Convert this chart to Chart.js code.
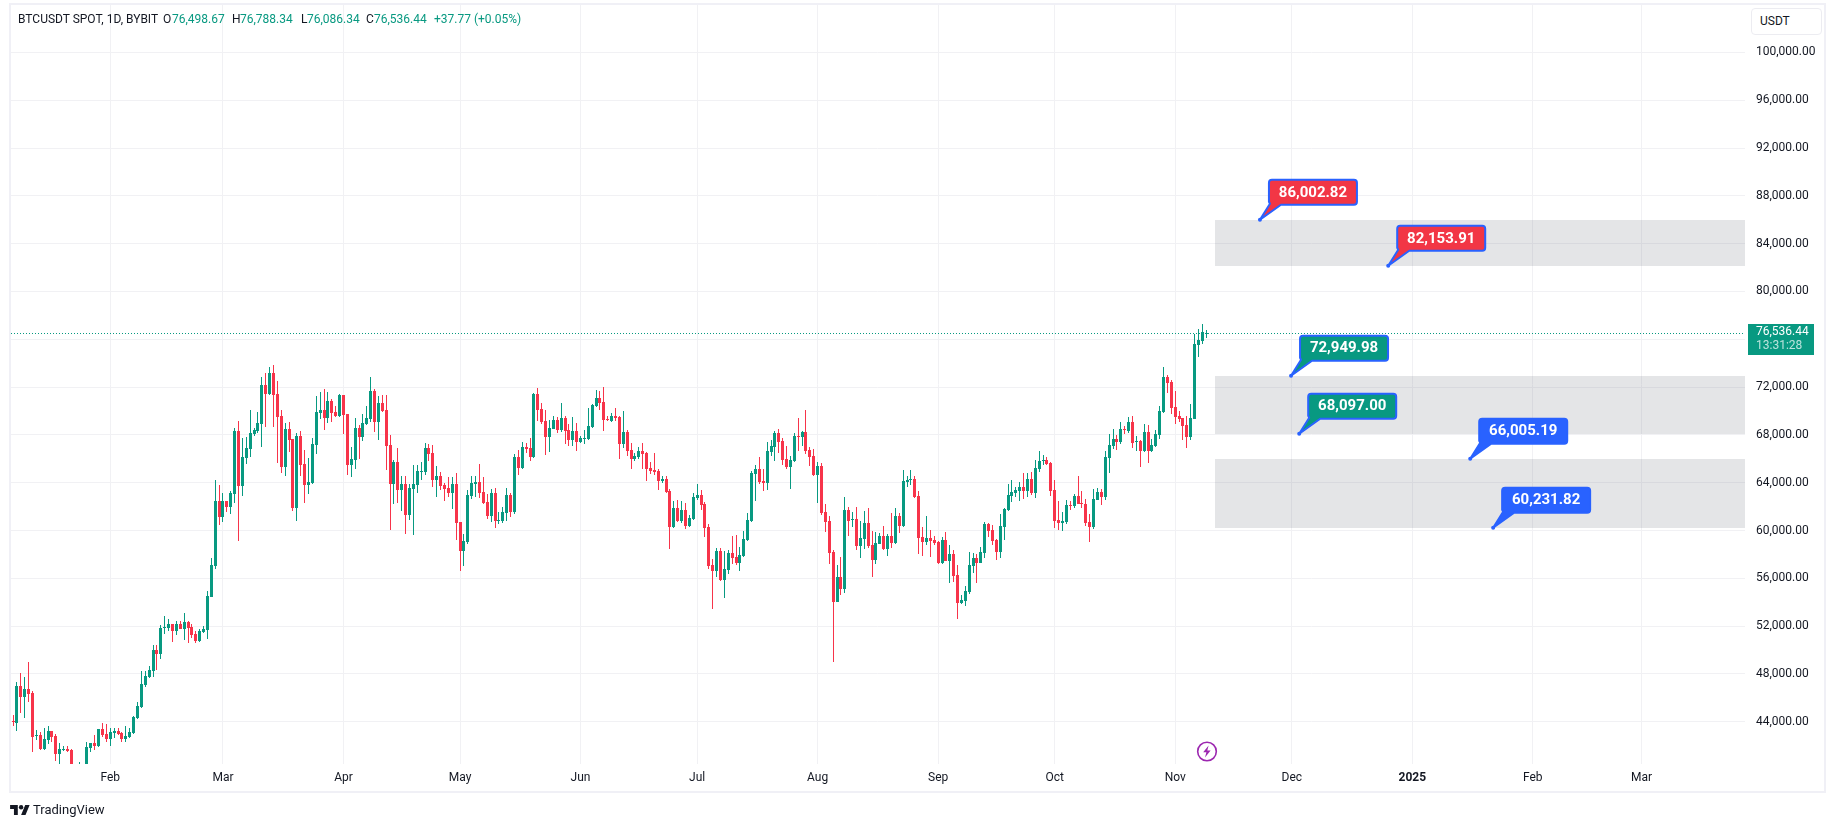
<!DOCTYPE html>
<html>
<head>
<meta charset="utf-8">
<title>BTCUSDT</title>
<script src="https://cdn.jsdelivr.net/npm/chart.js@4"></script>
<style>
html,body{margin:0;padding:0;background:#fff;width:1835px;height:827px;overflow:hidden;font-family:Roboto,sans-serif;color:#131722}
#c{position:absolute;left:0;top:0}
#frame{position:absolute;left:9px;top:3px;width:1813px;height:786px;border:2px solid #f0f0f6;pointer-events:none}
.t{position:absolute;white-space:nowrap;font-size:12px;line-height:14px;top:12px}
.g{color:#089981}
#usdt{position:absolute;left:1751px;top:8px;width:69px;height:25px;border:1px solid #ececf1;border-radius:4px;box-sizing:content-box;font-size:12px;line-height:25px;text-indent:8px;background:#fff}
#logo{position:absolute;left:10px;top:804px}
#brand{position:absolute;left:33px;top:802px;font-size:13px;line-height:16px;font-weight:400;color:#131722}
#bolt{position:absolute;left:1196px;top:741px}
</style>
</head>
<body>
<canvas id="c" width="1835" height="827"></canvas>
<div id="frame"></div>
<div class="t" style="left:18px">BTCUSDT SPOT, 1D, BYBIT</div>
<div class="t" style="left:163px">O</div><div class="t g" style="left:172px">76,498.67</div>
<div class="t" style="left:232px">H</div><div class="t g" style="left:240px">76,788.34</div>
<div class="t" style="left:301px">L</div><div class="t g" style="left:307px">76,086.34</div>
<div class="t" style="left:366px">C</div><div class="t g" style="left:374px">76,536.44</div>
<div class="t g" style="left:434px">+37.77 (+0.05%)</div>
<div id="usdt">USDT</div>
<svg id="logo" width="20" height="11" viewBox="0 0 36 20"><path fill="#131722" d="M14 20H7V9H0V2h14v18zM28 20h-8l7.5-18h8L28 20z"/><circle cx="20" cy="6" r="4" fill="#131722"/></svg>
<div id="brand">TradingView</div>
<svg id="bolt" width="22" height="21" viewBox="0 0 22 21"><circle cx="11" cy="10.5" r="9.3" fill="#fff" stroke="#9c27b0" stroke-width="1.6"/><path fill="#9c27b0" d="M12.6 4.5 7.2 11.3h3.2l-1.4 5.2 5.6-7h-3.3z"/></svg>
<script>
const firstDay = 5;
const opens = [44140,44029,43889,46965,46042,46714,46378,42770,42854,41679,
42435,43189,42770,41259,41595,41679,41595,39600,39850,40100,
39900,41763,42183,41931,43357,42938,42518,43022,43189,43022,
42518,42686,43022,44281,45204,47049,47720,48224,49986,49650,
51832,51832,52168,51580,52168,51748,52336,51916,51329,50741,
51497,51664,54433,56994,62430,61091,62430,61928,63016,68289,
63685,66029,66782,68038,68289,68875,72139,71386,73143,71386,
69544,65276,68456,67619,61844,67870,65527,63769,63936,67117,
69795,70046,69377,70800,69879,69544,71302,69712,65443,65862,
68540,67787,68875,69293,71637,69042,70632,70046,67117,63853,
65694,63351,63853,61258,63434,63769,64857,64857,66866,66447,
64188,64522,63769,63518,63100,63853,60672,58245,58998,62848,
63853,64020,63183,62346,61186,63104,60769,60769,61436,62937,
61519,66190,65189,67024,66940,66190,71444,70193,69192,67858,
68525,69275,68441,69442,68441,67607,68358,67441,67691,67691,
68692,70443,71110,70777,69359,69192,69609,69526,67274,68275,
66773,66023,66190,66690,66523,65189,65022,64939,64105,64271,
63271,60268,61853,60769,61686,60352,60935,62687,62937,62186,
60268,57102,56602,58270,55851,56685,58103,57769,57269,57853,
59187,60772,64691,65108,64108,63941,66610,67027,68194,67527,
65942,65275,65776,67944,67861,68278,66777,66193,64608,65359,
61522,60772,58186,54016,56101,55100,61689,60855,60938,58687,
59270,60605,58770,57519,58853,59521,58436,59521,58937,61189,
60355,64024,64191,64274,62857,59437,59020,59354,59187,59020,
57269,59187,57436,58019,56268,53933,54099,54859,57035,57704,
57286,58123,60550,60048,59211,58207,60298,61721,62892,63144,
63310,63645,63310,64314,63144,65151,65820,65904,65653,63394,
60884,60633,60717,62139,62055,62892,62306,62223,60717,60298,
62557,63226,62808,66071,67075,67661,67410,68498,68331,69083,
67410,67494,66657,68247,66657,67075,67996,69920,72849,72431,
70339,69586,69418,68833,67829,69335,75526,75861,76498.67];
const closes = [44030,43945,46965,46042,46714,46294,42686,42854,41679,42518,
43189,42686,41259,41679,41679,41511,39600,39850,40100,39900,
41847,42183,41931,43357,42854,42518,43105,43189,42938,42518,
42770,43105,44364,45287,47133,47804,48308,49986,49650,51832,
51916,52168,51580,52168,51748,52336,51832,51245,50741,51580,
51748,54517,57073,62430,61091,62430,61928,63100,68289,63685,
66113,66866,68121,68373,68958,72139,71386,73143,71302,69461,
65276,68456,67536,61844,67870,65443,63769,64020,67201,69879,
70046,69377,70800,69795,69544,71302,69628,65443,65945,68540,
67787,68958,69377,71637,69042,70632,69963,67033,63853,65694,
63351,63853,61258,63518,63853,64941,64941,66866,66364,64188,
64522,63685,63434,63100,63853,60588,58245,59082,62932,63936,
64020,63100,62262,61175,63104,60769,60852,61519,62937,61519,
66190,65189,67024,66857,66190,71444,70109,69109,67858,68608,
69275,68441,69442,68358,67607,68358,67441,67774,67774,68775,
70526,71110,70693,69275,69275,69609,69442,67274,68275,66690,
66023,66273,66690,66440,65105,64939,64855,64105,64271,63187,
60268,61853,60769,61686,60352,61019,62770,62937,62103,60185,
57015,56602,58270,55851,56768,58103,57686,57269,57936,59270,
60855,64775,65108,64024,63941,66693,67110,68194,67444,65859,
65275,65859,67944,67861,68278,66693,66109,64608,65359,61439,
60688,58103,54016,56101,55100,61689,60772,60938,58687,59354,
60605,58687,57519,58937,59521,58436,59521,58937,61189,60355,
64108,64191,64274,62773,59354,59020,59354,59104,58937,57269,
59187,57436,58019,56185,53933,54183,54933,57118,57704,57286,
58207,60550,59964,59127,58207,60382,61804,62976,63226,63394,
63645,63310,64314,63144,65235,65820,65904,65570,63310,60800,
60633,60800,62139,62055,62892,62223,62223,60633,60298,62641,
63226,62808,66155,67159,67661,67410,68498,68414,69083,67326,
67494,66657,68247,66657,67159,68080,70004,72849,72347,70255,
69502,69335,68749,67829,69418,75610,75945,76614,76536.44];
const highs = [44180,44532,47301,48056,47720,48979,46546,43273,43105,43441,
43610,43189,42938,42183,41931,41931,41679,40100,40588,40300,
42267,42183,42854,43357,43861,43777,43441,43441,43441,43105,
43610,43441,44448,45623,48224,48224,48643,50406,50406,52084,
52839,52587,52168,52420,52420,53091,52420,52168,51580,51748,
52000,54937,57659,64188,63769,63100,62450,63267,68540,69126,
67703,67787,70046,68540,69879,72809,73143,73646,73813,72474,
70046,68958,69042,67619,68121,68289,66698,66029,67703,71218,
71553,71804,71553,70967,70381,71386,71320,69712,66950,69377,
68791,69712,70381,72809,71804,71218,71302,71302,67954,65862,
66866,64522,64522,63853,65443,65443,65694,67284,67201,67117,
65359,64857,63936,64439,64439,64773,60672,59668,63351,64522,
64522,65527,64438,63016,63437,63521,61519,61936,63521,63104,
66440,66773,67441,67357,67774,71527,71944,70693,70109,69275,
69609,69526,70693,69609,68942,69526,69025,67941,68441,70276,
70610,71777,71694,72028,69609,69859,70276,69609,70026,68441,
67357,66523,67024,67357,66607,65773,66523,65105,64522,64522,
63437,62437,62520,62437,62270,61269,63104,63854,63354,62353,
60518,57602,58520,58520,58270,58353,59521,59604,58604,59938,
61439,64941,65442,66109,65108,67444,67610,68361,68528,67777,
67110,66193,68194,69445,68361,70112,67027,66860,65692,65609,
62189,61189,58353,57102,57769,62773,61939,61522,61939,60772,
61606,61856,59938,59854,59771,60355,59688,61439,61856,61439,
65025,64525,65025,64525,63274,60271,61189,60021,59521,59104,
59437,59854,58770,58353,57102,54600,55350,58207,58123,58039,
58625,60717,60633,60466,59294,61386,61888,63896,64231,63645,
64063,64817,64817,64900,65904,66657,66322,66155,65737,64231,
62474,61554,62557,62474,63059,64565,63310,62641,61386,63478,
63561,63478,66657,68080,68498,67996,69083,68749,69502,69586,
67912,67578,68916,68833,67661,68414,70422,73686,73016,72598,
71677,70004,69440,69586,70590,76447,76865,77283,76788.34];
const lows = [43990,43610,43189,44700,44281,45623,41427,42435,41650,41650,
42099,42267,40671,40000,41511,41480,39400,38500,39500,39500,
39800,41427,41595,41847,42686,42267,41931,42602,42900,42267,
42267,42602,42938,44250,45170,46881,47637,47720,48308,49231,
51329,51580,50657,51245,51720,50825,50573,50993,50573,50657,
51413,50909,54400,56738,60421,60672,61509,61342,62262,59082,
62848,65527,66113,67870,68121,66950,68624,71302,68624,65610,
64773,64522,66531,61593,60756,64522,62262,63016,63853,66364,
69293,68373,68958,69042,69520,69520,68038,64606,64439,65108,
65945,67452,68850,69042,68205,67536,69879,65025,60003,62179,
62262,61593,59668,60840,59584,63100,64188,64606,65778,63602,
62765,63351,62430,62765,61760,59166,56571,56994,58831,62597,
62765,62681,62240,60923,60685,60185,60518,60602,60769,61102,
61352,64605,65105,66523,65856,66106,69192,68942,66356,66607,
68500,68191,68275,67274,67107,67107,66690,67357,67274,67607,
68608,70360,70109,68358,69192,69109,69192,66023,66940,66273,
65105,65856,66023,65105,64105,64688,64605,63354,63938,63160,
58433,60240,60740,60602,60101,60330,60852,62520,61686,59434,
56765,53433,56101,55768,54350,56351,57186,57102,56602,57769,
59160,60688,62440,63857,63274,63357,66276,65776,66526,65442,
65108,63441,65750,66693,67110,66443,65359,64525,62273,61272,
59854,57186,49012,53990,54600,54767,59521,60271,58353,57686,
58436,58520,56101,57186,58830,58410,57853,58520,58853,59771,
60330,63607,63774,62750,58019,57853,58770,57769,58770,57186,
57160,57410,55601,55684,52598,53849,53683,54692,56449,55612,
57260,57704,59462,58792,57537,57704,59211,61637,62390,62808,
62474,62641,62808,62976,62725,64900,65486,65486,62892,60214,
60048,59964,60550,61721,61888,62200,61888,60382,59043,60131,
62530,62139,62557,64817,66824,66741,67243,68080,68163,66908,
66657,65318,66573,65653,66573,66992,67661,69837,71510,69753,
68916,69083,67578,66908,67578,69310,74522,75610,76086.34];
const priceTicks = [44000,48000,52000,56000,60000,64000,68000,72000,76000,80000,84000,88000,92000,96000,100000];
const tickDays = [31,60,91,121,152,182,213,244,274,305,335,366,397,425];
const tickLabels = ['Feb','Mar','Apr','May','Jun','Jul','Aug','Sep','Oct','Nov','Dec','2025','Feb','Mar'];
const zoneLows = [82153.91,68097,60231.82];
const zoneHighs = [86002.82,72949.98,66005.19];
const zoneStartDay = 315.2;
const zoneEndDay = 451.6;
const calloutPrices = [86002.82,82153.91,72949.98,68097.00,66005.19,60231.82];
const calloutDays = [326.8,359.8,334.8,336.9,380.9,386.8];
const calloutKinds = ['r','r','g','g','b','b'];
const lastPrice = 76536.44;
const countdown = '13:31:28';

const UP='#089981', DOWN='#F7344A', BLUE='#2962FF', GRID='#f1f1f4';
const days = opens.map((_,i)=>firstDay+i);
const colors = opens.map((o,i)=>closes[i]>=o?UP:DOWN);
const fmt = v=>v.toLocaleString('en-US',{minimumFractionDigits:2,maximumFractionDigits:2});
Chart.defaults.font.family='Roboto, sans-serif';

const snap = {
  id:'snap',
  beforeDatasetsDraw(chart){
    chart.data.datasets.forEach((ds,i)=>{
      chart.getDatasetMeta(i).data.forEach(el=>{
        el.x=Math.floor(el.x)+0.5;
        let a=Math.round(el.y), b=Math.round(el.base);
        if(a===b) b=a+1;
        el.y=a; el.base=b;
      });
    });
  }
};
const zones = {
  id:'zones',
  beforeDatasetsDraw(chart){
    const {ctx,scales:{x,y}}=chart;
    ctx.save();
    ctx.fillStyle='rgba(120,123,134,0.2)';
    zoneLows.forEach((lo,i)=>{
      const t=Math.round(y.getPixelForValue(zoneHighs[i])), b=Math.round(y.getPixelForValue(lo));
      const l=Math.round(x.getPixelForValue(zoneStartDay)), r=Math.round(x.getPixelForValue(zoneEndDay));
      ctx.fillRect(l,t,r-l,b-t);
    });
    ctx.restore();
  }
};
const overlay = {
  id:'overlay',
  afterDatasetsDraw(chart){
    const {ctx,chartArea:a,scales:{x,y}}=chart;
    ctx.save();
    const py=Math.round(y.getPixelForValue(lastPrice))+0.5;
    ctx.strokeStyle=UP; ctx.lineWidth=1; ctx.setLineDash([1,2]);
    ctx.beginPath(); ctx.moveTo(Math.round(a.left),py); ctx.lineTo(a.right,py); ctx.stroke();
    ctx.setLineDash([]);
    const fill={r:'#F23645',g:'#089981',b:BLUE};
    calloutPrices.forEach((p,i)=>{
      const ax=x.getPixelForValue(calloutDays[i]), ay=y.getPixelForValue(p);
      const L=ax+9, R=L+88, T=ay-40, B=T+25, r=3;
      ctx.beginPath();
      ctx.moveTo(L+r,T); ctx.lineTo(R-r,T); ctx.arcTo(R,T,R,T+r,r); ctx.lineTo(R,B-r); ctx.arcTo(R,B,R-r,B,r);
      ctx.lineTo(L+12,B); ctx.lineTo(ax,ay); ctx.lineTo(L+1,B-1); ctx.lineTo(L,B-r); ctx.lineTo(L,T+r); ctx.arcTo(L,T,L+r,T,r);
      ctx.closePath();
      ctx.fillStyle=fill[calloutKinds[i]]; ctx.fill();
      ctx.strokeStyle=BLUE; ctx.lineWidth=2; ctx.lineJoin='round'; ctx.stroke();
      ctx.fillStyle=BLUE; ctx.beginPath(); ctx.arc(ax,ay,2,0,Math.PI*2); ctx.fill();
      ctx.fillStyle='#fff'; ctx.font='bold 15px Roboto, sans-serif'; ctx.textAlign='center'; ctx.textBaseline='middle';
      ctx.fillText(fmt(p),(L+R)/2,(T+B)/2+0.5);
    });
    ctx.restore();
  },
  afterDraw(chart){
    const {ctx,scales:{y}}=chart;
    const py=y.getPixelForValue(lastPrice);
    ctx.save();
    ctx.fillStyle=UP; ctx.fillRect(1748,Math.round(py-9),66,31);
    ctx.font='12px Roboto, sans-serif'; ctx.textAlign='left'; ctx.textBaseline='middle';
    ctx.fillStyle='#fff'; ctx.fillText(fmt(lastPrice),1756,Math.round(py-1));
    ctx.fillStyle='rgba(255,255,255,0.72)'; ctx.fillText(countdown,1756,Math.round(py+13));
    ctx.restore();
  }
};

new Chart(document.getElementById('c'),{
  type:'bar',
  data:{datasets:[
    {label:'Wick',data:days.map((d,i)=>({x:d,y:[lows[i],highs[i]]})),backgroundColor:colors,borderWidth:0,inflateAmount:0,barThickness:1,grouped:false,order:2},
    {label:'Body',data:days.map((d,i)=>({x:d,y:[opens[i],closes[i]]})),backgroundColor:colors,borderWidth:0,inflateAmount:0,barThickness:3,grouped:false,order:1}
  ]},
  plugins:[snap,zones,overlay],
  options:{
    responsive:false,animation:false,devicePixelRatio:1,
    layout:{autoPadding:false,padding:{left:10.5,top:5,right:10,bottom:35}},
    plugins:{legend:{display:false},tooltip:{enabled:false},title:{display:false}},
    events:[],
    scales:{
      x:{type:'linear',min:5.33,max:451.6,offset:false,
        grid:{offset:false,color:GRID,drawTicks:false,tickLength:0,lineWidth:1},border:{display:false},
        afterBuildTicks:s=>{s.ticks=tickDays.map(v=>({value:v}));},
        afterFit:s=>{s.height=28;s.paddingLeft=0;s.paddingRight=0;s.paddingTop=0;s.paddingBottom=0;},
        ticks:{autoSkip:false,maxRotation:0,minRotation:0,padding:7,color:'#131722',
          font:ctx=>({size:12,weight:tickLabels[ctx.index]==='2025'?'bold':'normal'}),
          callback:(v,i)=>tickLabels[i]}
      },
      y:{type:'linear',position:'right',min:40461,max:103974,
        grid:{color:GRID,drawTicks:false,tickLength:0,lineWidth:1},border:{display:false},
        afterBuildTicks:s=>{s.ticks=priceTicks.map(v=>({value:v}));},
        afterFit:s=>{s.width=80;s.paddingLeft=0;s.paddingRight=0;s.paddingTop=0;s.paddingBottom=0;},
        ticks:{align:'center',crossAlign:'near',padding:11,color:'#131722',font:{size:12},autoSkip:false,callback:v=>fmt(v)}
      }
    }
  }
});
</script>
</body>
</html>
